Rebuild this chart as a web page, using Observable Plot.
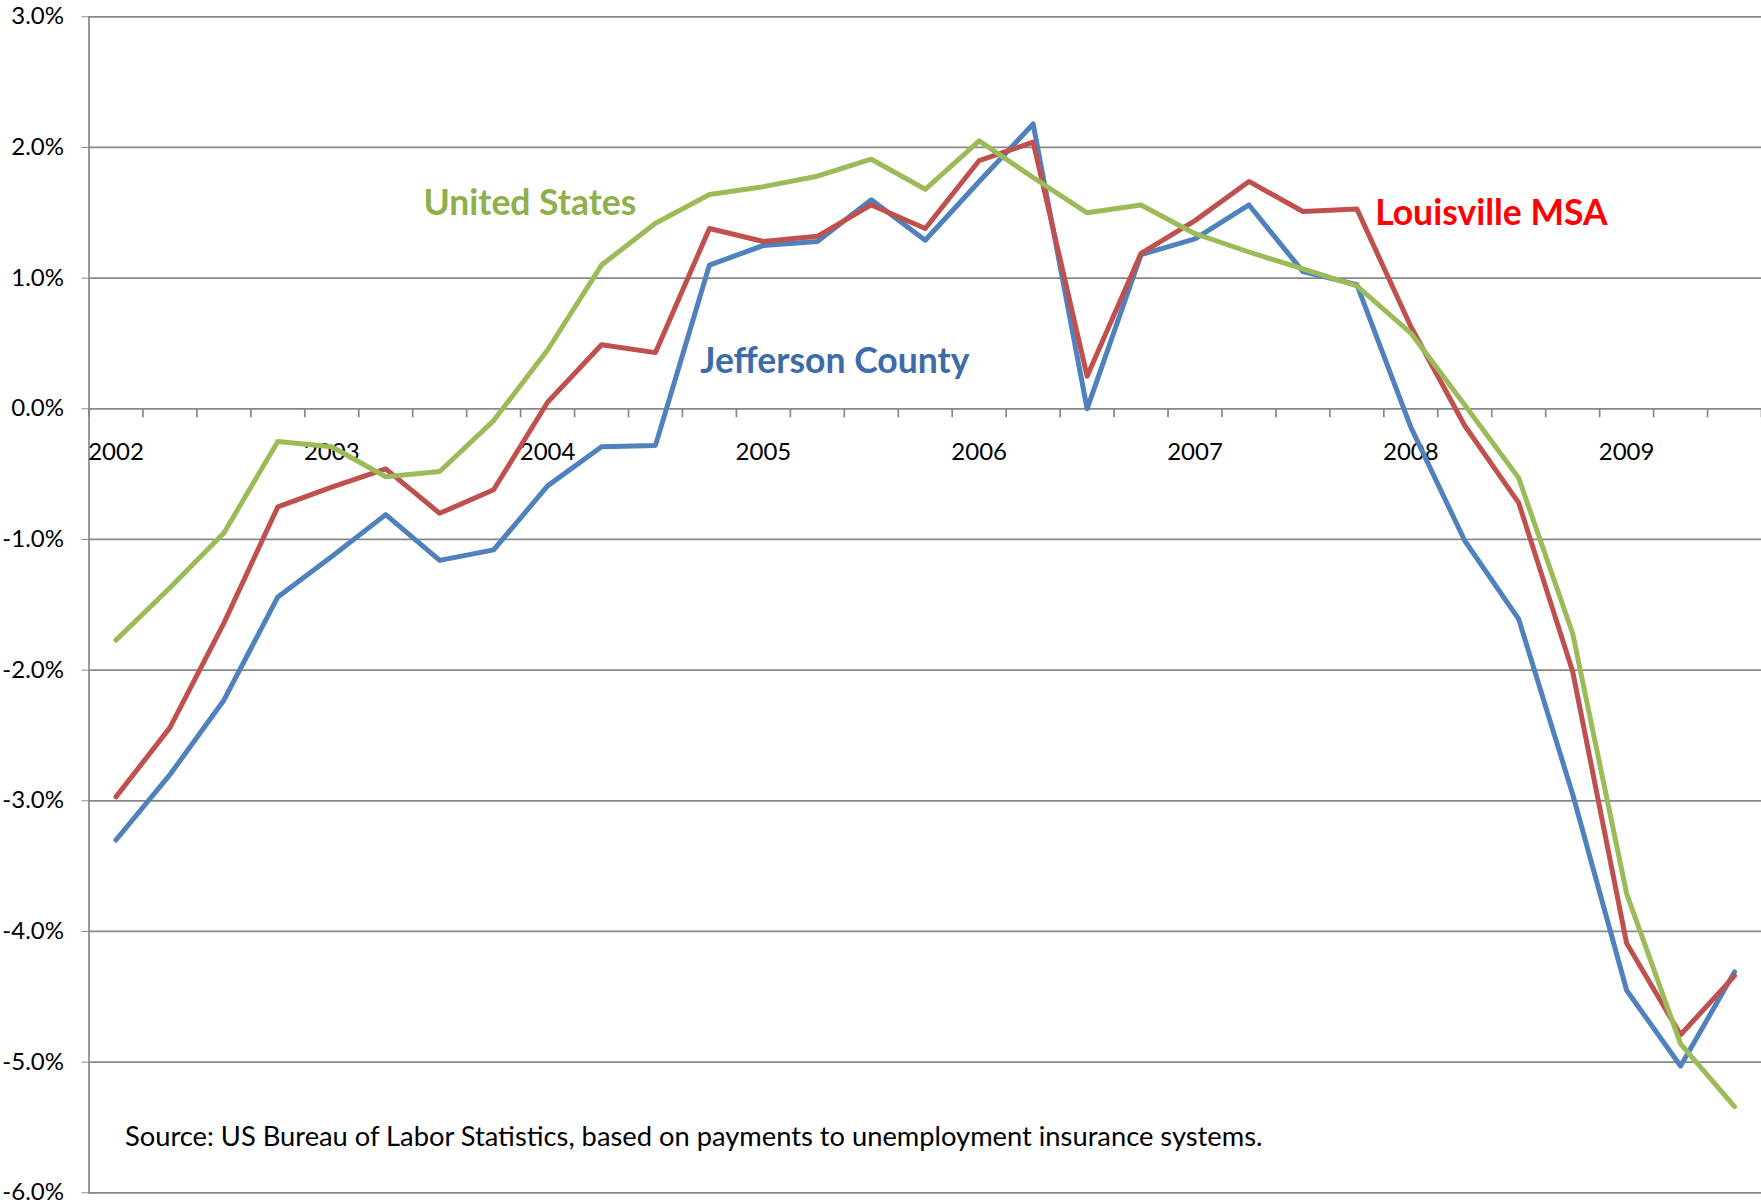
<!DOCTYPE html>
<html>
<head>
<meta charset="utf-8">
<script src="https://cdn.jsdelivr.net/npm/d3@7"></script>
<script src="https://cdn.jsdelivr.net/npm/@observablehq/plot@0.6"></script>
<style>
  body { margin: 0; background: #fff; }
  #chart svg { display: block; }
</style>
</head>
<body>
<div id="chart"></div>
<script>
// Quarterly series, 2002 Q1 .. 2009 Q3 (percent)
const yearLabels = ["2002", "2003", "2004", "2005", "2006", "2007", "2008", "2009"];
const jefferson = [-3.30, -2.80, -2.23, -1.44, -1.13, -0.81, -1.16, -1.08, -0.59, -0.29, -0.28,
  1.10, 1.25, 1.28, 1.60, 1.29, 1.74, 2.18, 0.00, 1.18, 1.30, 1.56, 1.05, 0.95,
  -0.14, -1.01, -1.61, -2.95, -4.45, -5.03, -4.31];
const louisville = [-2.97, -2.44, -1.64, -0.75, -0.60, -0.46, -0.80, -0.62, 0.05, 0.49, 0.43,
  1.38, 1.28, 1.32, 1.56, 1.38, 1.90, 2.04, 0.25, 1.19, 1.44, 1.74, 1.51, 1.53,
  0.63, -0.13, -0.72, -2.01, -4.09, -4.79, -4.34];
const unitedStates = [-1.77, -1.37, -0.95, -0.25, -0.29, -0.52, -0.48, -0.09, 0.45, 1.10, 1.42,
  1.64, 1.70, 1.78, 1.91, 1.68, 2.05, 1.77, 1.50, 1.56, 1.34, 1.20, 1.07, 0.94,
  0.58, 0.03, -0.53, -1.72, -3.71, -4.86, -5.34];
const seriesNames = ["Jefferson County", "Louisville MSA", "United States"];
const seriesColors = ["#4F81BD", "#C0504D", "#9BBB59"];
const labelColors = ["#3D6BAA", "#FF0000", "#8DB04C"];
const yTicks = [3, 2, 1, 0, -1, -2, -3, -4, -5, -6];
const sourceText = "Source: US Bureau of Labor Statistics, based on payments to unemployment insurance systems.";

const n = jefferson.length;
const rows = [];
[jefferson, louisville, unitedStates].forEach((vals, s) =>
  vals.forEach((v, i) => rows.push({series: seriesNames[s], q: i, value: v})));

const grid = "#878787";

const chart = Plot.plot({
  width: 1761,
  height: 1204,
  marginLeft: 88.5,
  marginRight: 0,
  marginTop: 16.3,
  marginBottom: 11.7,
  style: {fontFamily: "Lato, 'Open Sans', sans-serif", fontSize: "24px", color: "#000", background: "#fff"},
  x: {domain: [-0.5, n - 0.5], axis: null},
  y: {domain: [-6, 3]},
  color: {domain: seriesNames, range: seriesColors},
  marks: [
    Plot.ruleY(yTicks, {stroke: grid, strokeWidth: 1.7}),
    Plot.frame({anchor: "left", stroke: grid, strokeWidth: 1.7}),
    Plot.axisY({ticks: yTicks, tickSize: 7, tickPadding: 18, tickFormat: d => d.toFixed(1) + "%",
      stroke: grid, fill: "#000", fontSize: 24, label: null}),
    Plot.ruleX(d3.range(-0.5, n, 1), {y1: 0, y2: 0, insetBottom: -9, stroke: grid, strokeWidth: 1.7}),
    Plot.text(yearLabels, {x: (d, i) => i * 4, y: 0, text: d => d, dy: 44, fill: "#000", fontSize: 24}),
    Plot.line(rows, {x: "q", y: "value", stroke: "series", strokeWidth: 5,
      strokeLinejoin: "round", strokeLinecap: "round"}),
    Plot.text([seriesNames[2]], {x: 5.70, y: 1.57, text: d => d, textAnchor: "start",
      fill: labelColors[2], fontWeight: "bold", fontSize: 35.5}),
    Plot.text([seriesNames[0]], {x: 10.83, y: 0.36, text: d => d, textAnchor: "start",
      fill: labelColors[0], fontWeight: "bold", fontSize: 35.5}),
    Plot.text([seriesNames[1]], {x: 23.34, y: 1.49, text: d => d, textAnchor: "start",
      fill: labelColors[1], fontWeight: "bold", fontSize: 35.5}),
    Plot.text([sourceText], {frameAnchor: "bottom-left", dx: 36, dy: -47, textAnchor: "start",
      fill: "#000", fontSize: 27.3})
  ]
});
document.getElementById("chart").appendChild(chart);
</script>
</body>
</html>
